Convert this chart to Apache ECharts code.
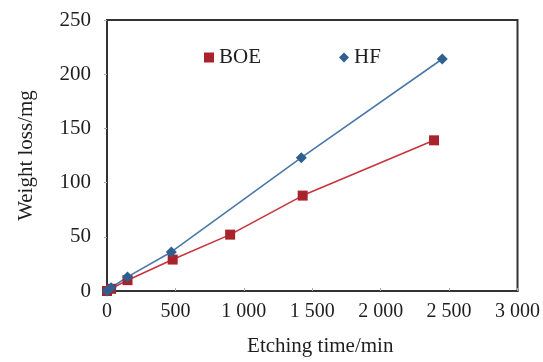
<!DOCTYPE html>
<html>
<head>
<meta charset="utf-8">
<script src="https://cdn.jsdelivr.net/npm/echarts@6/dist/echarts.min.js"></script>
<style>
  html, body { margin: 0; padding: 0; background: #fff; }
  #chart { width: 543px; height: 362px; }
</style>
</head>
<body>
<div id="chart"></div>
<script>
// Etching time (min) and weight loss (mg) for the two etchants
const boeTime = [0, 30, 150, 480, 900, 1430, 2390];
const boeLoss = [0, 2, 10, 29, 52, 88, 139];
const hfTime = [0, 30, 150, 470, 1420, 2450];
const hfLoss = [0, 3, 13, 36, 123, 214];

const xTicks = [0, 500, 1000, 1500, 2000, 2500, 3000];
const yTicks = [0, 50, 100, 150, 200, 250];

const pair = (xs, ys) => xs.map((x, i) => [x, ys[i]]);
const fmtThousands = v => {
  const s = String(v);
  return s.length > 3 ? s.slice(0, s.length - 3) + ' ' + s.slice(-3) : s;
};

const font = 'Liberation Serif';
const ink = '#1e1e1e';
const chart = echarts.init(document.getElementById('chart'));
chart.setOption({
  animation: false,
  backgroundColor: '#fff',
  textStyle: { fontFamily: font },
  grid: { left: 107, right: 25, top: 20, bottom: 70, show: true,
          borderColor: '#333', borderWidth: 2, backgroundColor: 'transparent' },
  legend: {
    left: 199, top: 42,
    itemWidth: 10, itemHeight: 10, itemGap: 78,
    textStyle: { fontFamily: font, fontSize: 21, color: ink },
    data: [{ name: 'BOE', icon: 'rect' }, { name: 'HF', icon: 'diamond' }]
  },
  xAxis: {
    type: 'value', min: xTicks[0], max: xTicks[xTicks.length - 1], interval: 500,
    name: 'Etching time/min', nameLocation: 'middle', nameGap: 45,
    nameTextStyle: { fontFamily: font, fontSize: 21, color: ink, padding: [0, 0, 0, 16] },
    axisLine: { show: true, lineStyle: { color: '#333', width: 2 } },
    axisTick: { show: true, inside: true, length: 3, lineStyle: { color: '#aaa' } },
    splitLine: { show: false },
    axisLabel: { fontFamily: font, fontSize: 20, color: ink, margin: 11,
                 formatter: v => fmtThousands(v) }
  },
  yAxis: {
    type: 'value', min: yTicks[0], max: yTicks[yTicks.length - 1], interval: 50,
    name: 'Weight loss/mg', nameLocation: 'middle', nameGap: 70,
    nameTextStyle: { fontFamily: font, fontSize: 21, color: ink },
    axisLine: { show: true, lineStyle: { color: '#333', width: 2 } },
    axisTick: { show: true, inside: false, length: 3, lineStyle: { color: '#aaa' } },
    splitLine: { show: false },
    axisLabel: { fontFamily: font, fontSize: 21, color: ink, margin: 16 }
  },
  series: [
    {
      name: 'BOE', type: 'line', data: pair(boeTime, boeLoss),
      symbol: 'rect', symbolSize: 10,
      lineStyle: { color: '#c9343c', width: 1.6 },
      itemStyle: { color: '#a9232c' }
    },
    {
      name: 'HF', type: 'line', data: pair(hfTime, hfLoss),
      symbol: 'diamond', symbolSize: 11,
      lineStyle: { color: '#4a78a8', width: 1.6 },
      itemStyle: { color: '#2f5f8f' }
    }
  ]
});
</script>
</body>
</html>
